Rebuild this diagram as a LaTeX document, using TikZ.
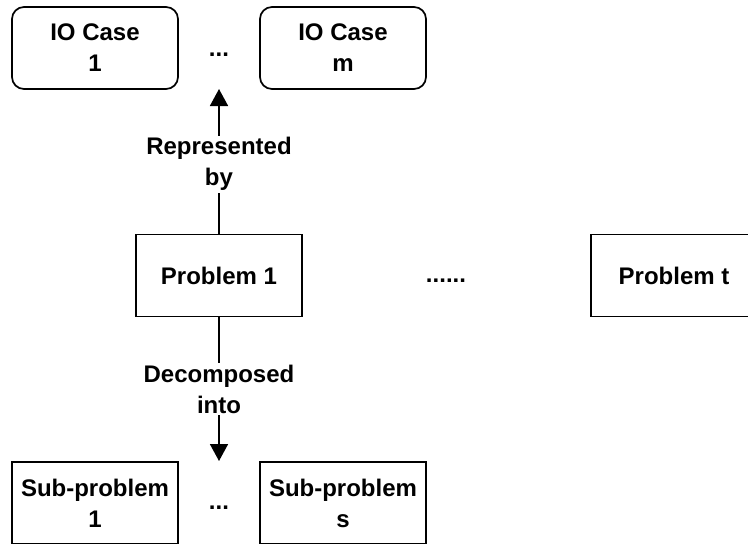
\documentclass[tikz,border=0pt]{standalone}
\usepackage{fontspec}
\setmainfont{Liberation Sans}
\usetikzlibrary{arrows.meta}
\begin{document}
\begin{tikzpicture}[x=1pt,y=-1pt,
  txt/.style={font=\fontsize{24}{31}\selectfont\bfseries},
  box/.style={txt, draw, line width=1.7pt, minimum width=166pt, minimum height=82pt,
              inner sep=0pt, align=center},
  iobox/.style={box, rounded corners=12pt},
  lbl/.style={txt, fill=white, align=center, inner sep=2pt},
  conn/.style={line width=1.7pt, -{Triangle[length=17pt,width=18pt]}},
]
\useasboundingbox (0,0) rectangle (748,544);
\clip (0,0) rectangle (748,544);

% IO cases
\node[iobox] (io1) at (95,48) {IO Case\\1};
\node[iobox] (iom) at (343,48) {IO Case\\m};
\node[txt] (iodots) at (219,55) {...};

% problems
\node[box] (p1) at (219,275.5) {Problem 1};
\node[txt] (pdots) at (446,281) {......};
\node[box] (pt) at (674,275.5) {Problem t};

% sub-problems
\node[box] (s1) at (95,503) {Sub-problem\\1};
\node[box] (ss) at (343,503) {Sub-problem\\s};
\node[txt] (sdots) at (219,508) {...};

% connectors
\coordinate (uptip) at (219,89);
\coordinate (downtip) at (219,461);
\draw[conn] (p1.north) -- (uptip) node[pos=0.48, lbl] {Represented\\by};
\draw[conn] (p1.south) -- (downtip) node[midway, lbl] {Decomposed\\into};
\end{tikzpicture}
\end{document}
